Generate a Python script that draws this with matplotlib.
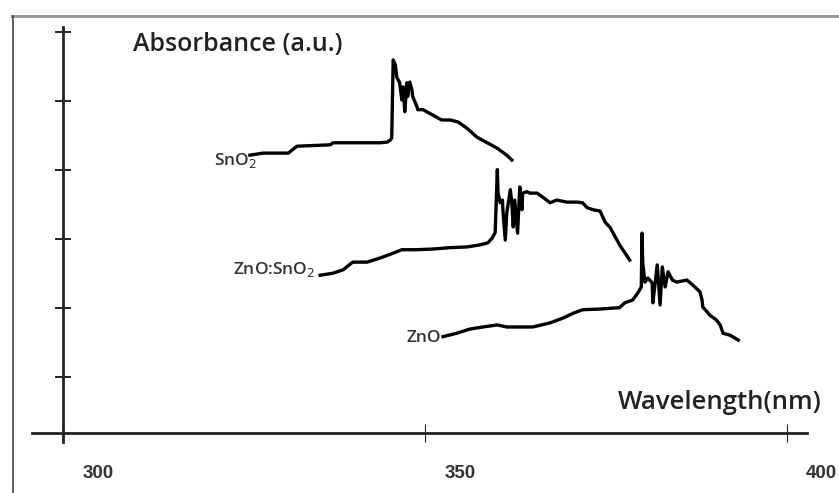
import matplotlib
matplotlib.use('Agg')
import matplotlib.pyplot as plt
from matplotlib.lines import Line2D

# wavelength (nm) / absorbance (a.u.)
sno2_wl = [325.8, 327.6, 331.1, 332.3, 336.9, 337.3, 343.8, 344.8, 345.2, 345.4,
           345.6, 345.9, 346.1, 346.5, 346.8, 347.0, 347.2, 347.5, 347.6, 347.9,
           348.2, 348.3, 348.9, 349.0, 349.7, 351.1, 352.3, 353.5, 354.6, 355.8,
           357.2, 358.6, 360.0, 361.3, 362.0]
sno2_ab = [4.21, 4.24, 4.24, 4.34, 4.36, 4.39, 4.39, 4.40, 4.43, 4.46,
           5.59, 5.52, 5.34, 5.26, 5.01, 5.20, 4.84, 5.26, 5.06, 5.27,
           5.15, 5.06, 4.91, 4.87, 4.87, 4.79, 4.72, 4.72, 4.69, 4.60,
           4.47, 4.39, 4.31, 4.21, 4.14]

mix_wl = [335.5, 337.3, 338.7, 340.0, 342.0, 343.8, 345.6, 346.8, 348.9, 351.1,
          353.5, 355.8, 357.6, 358.7, 359.3, 359.7, 360.0, 360.1, 360.4, 360.7,
          360.8, 361.1, 361.3, 361.8, 362.0, 362.2, 362.4, 362.8, 363.1, 363.4,
          363.5, 364.1, 364.5, 365.5, 366.3, 367.3, 368.2, 369.6, 371.0, 371.8,
          372.4, 373.2, 374.2, 374.9, 375.6, 376.9, 378.3]
mix_ab = [2.47, 2.50, 2.55, 2.66, 2.66, 2.72, 2.79, 2.84, 2.84, 2.85,
          2.87, 2.88, 2.91, 2.94, 3.01, 3.09, 4.00, 3.66, 3.52, 3.56,
          3.37, 2.98, 3.37, 3.71, 3.52, 3.17, 3.56, 3.08, 3.75, 3.42,
          3.66, 3.68, 3.66, 3.66, 3.60, 3.52, 3.56, 3.53, 3.53, 3.52,
          3.45, 3.42, 3.40, 3.24, 3.16, 2.91, 2.69]

zno_wl = [352.5, 354.4, 356.2, 358.0, 360.0, 361.3, 362.7, 364.9, 367.3, 369.1,
          370.5, 371.8, 374.2, 376.9, 377.6, 378.7, 379.4, 379.9, 380.0, 380.1,
          380.4, 380.8, 381.4, 381.5, 382.1, 382.5, 382.8, 383.2, 383.6, 384.2,
          384.8, 386.2, 387.0, 388.0, 388.3, 388.4, 389.4, 390.3, 390.8, 391.2,
          392.2, 393.3]
zno_ab = [1.58, 1.63, 1.69, 1.72, 1.75, 1.72, 1.72, 1.72, 1.78, 1.85,
          1.92, 1.97, 1.98, 2.00, 2.07, 2.11, 2.21, 2.30, 3.08, 2.65,
          2.37, 2.43, 2.36, 2.07, 2.62, 2.04, 2.59, 2.30, 2.52, 2.40,
          2.37, 2.40, 2.33, 2.23, 2.11, 2.01, 1.89, 1.82, 1.75, 1.63,
          1.60, 1.53]

xticks = [300, 350, 400]
xtick_labels = ['300', '350', '400']
yticks = [1, 2, 3, 4, 5, 6]

fig = plt.figure(figsize=(8.39, 4.93), dpi=100)
ax = fig.add_axes([0, 0, 1, 1])
ax.set_xlim(291.25, 407.23)
ax.set_ylim(-0.686, 6.459)

for wl, ab in [(sno2_wl, sno2_ab), (mix_wl, mix_ab), (zno_wl, zno_ab)]:
    ax.plot(wl, ab, color='black', lw=2.4, solid_joinstyle='round')

# axes
for s in ['top', 'right']:
    ax.spines[s].set_visible(False)
ax.spines['left'].set_position(('data', 300))
ax.spines['left'].set_bounds(0.05, 6.07)
ax.spines['bottom'].set_position(('data', 0.18))
ax.spines['bottom'].set_bounds(295.7, 402.8)
for s in ['left', 'bottom']:
    ax.spines[s].set_linewidth(2.0)
    ax.spines[s].set_color('#222222')

ax.set_xticks(xticks)
ax.set_yticks(yticks)
ax.tick_params(axis='y', direction='inout', length=11, width=1.4, color='#222222',
               labelleft=False)
ax.tick_params(axis='x', direction='inout', length=13, width=0.8, color='#222222',
               labelbottom=False)
for t, lab in zip(xticks, xtick_labels):
    ax.text(t + 4.8, -0.40, lab, ha='center', va='center', fontsize=13.5,
            fontweight='bold', family='Liberation Sans', color='#333333')

ax.text(309.6, 5.81, 'Absorbance (a.u.)', ha='left', va='center', fontsize=18,
        fontweight='semibold', family='Open Sans', color='#222222')
ax.text(376.6, 0.63, 'Wavelength(nm)', ha='left', va='center', fontsize=18.5,
        fontweight='semibold', family='Open Sans', color='#222222')

lab_kw = dict(va='center', fontsize=12.5, fontweight='semibold',
              family='Open Sans', color='#333333')
ax.text(326.8, 4.14, 'SnO$_2$', ha='right', **lab_kw)
ax.text(323.5, 2.55, 'ZnO:SnO$_2$', ha='left', **lab_kw)
ax.text(347.5, 1.56, 'ZnO', ha='left', **lab_kw)

# outer frame of the picture
fig.add_artist(Line2D([0.0143, 1.0], [0.9675, 0.9675], color='#999999', lw=2.2))
fig.add_artist(Line2D([0.0155, 0.0155], [0.0, 0.9675], color='#444444', lw=1.2))

fig.savefig('out.png', dpi=100)
